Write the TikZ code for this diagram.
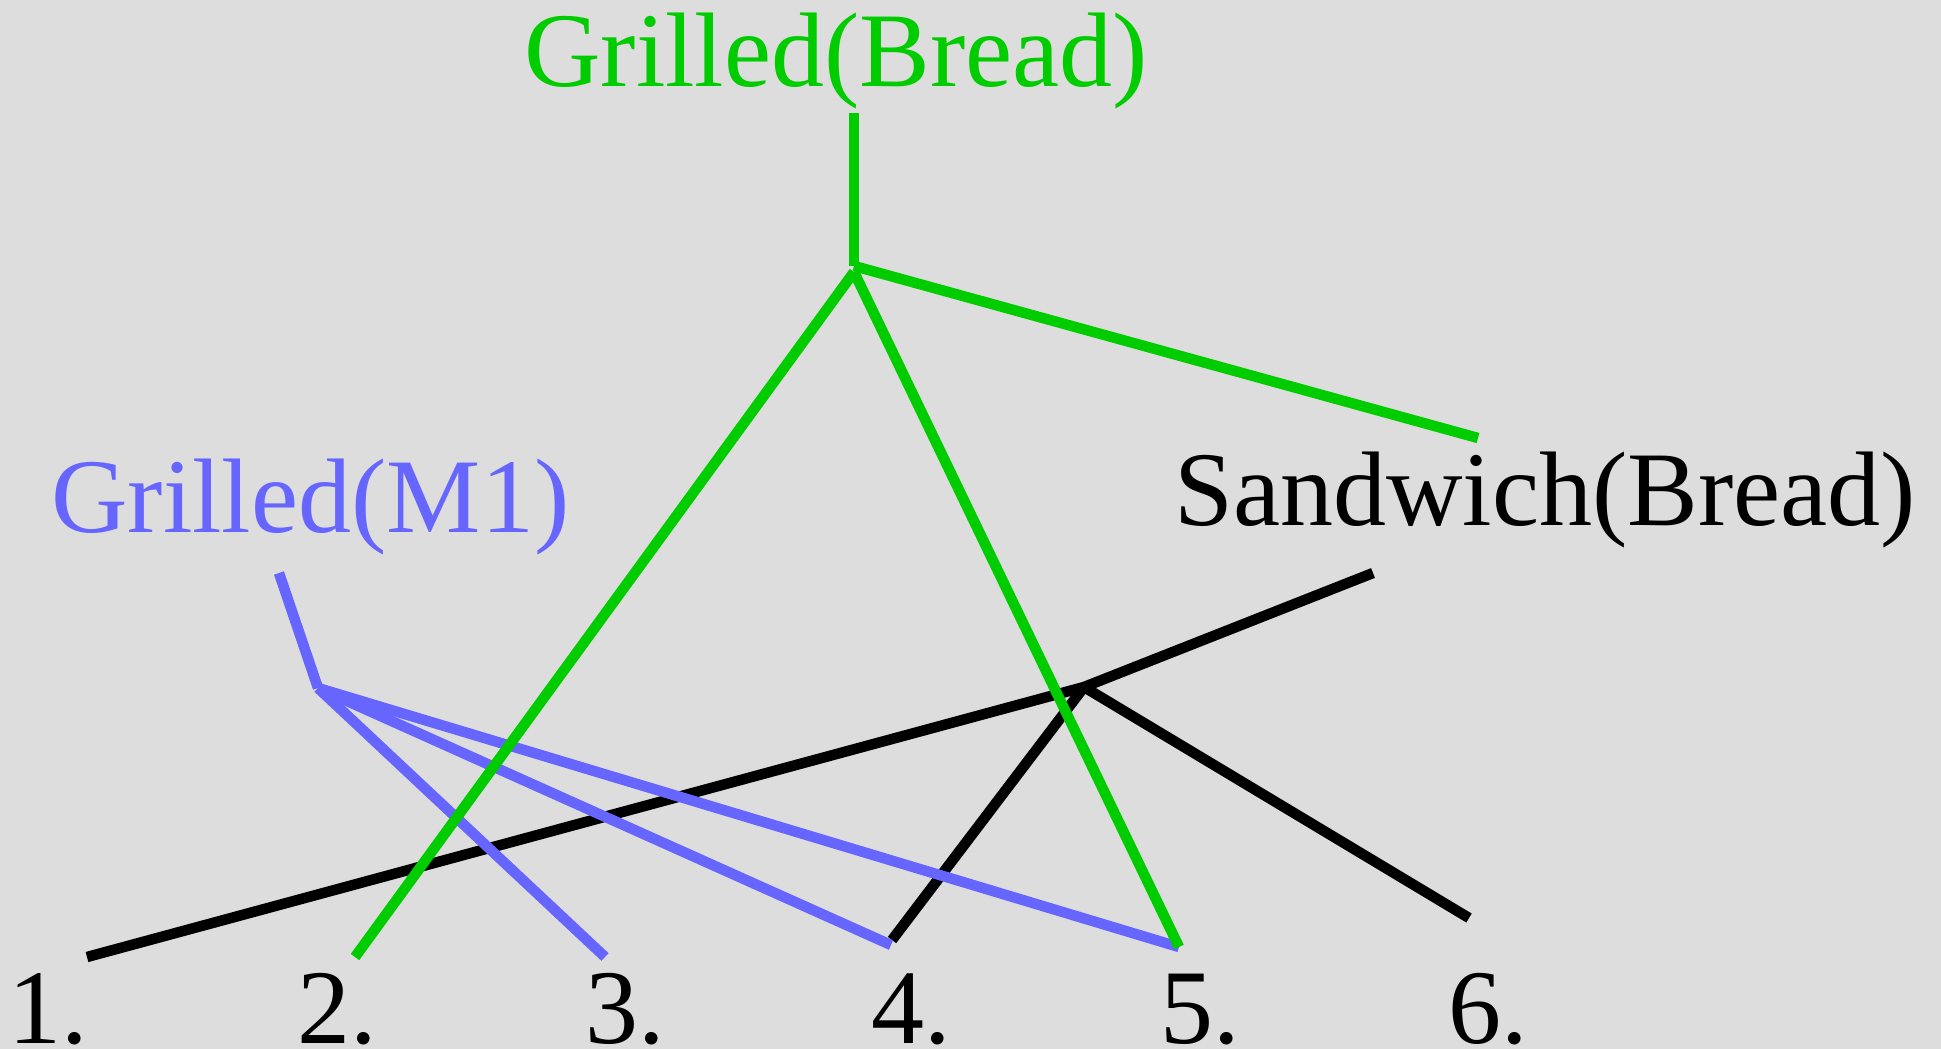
\documentclass[tikz,border=0pt]{standalone}
\usepackage{fontspec}
\setmainfont{Liberation Serif}
\usepackage{xcolor}

\definecolor{leafgreen}{HTML}{00CC00}
\definecolor{mblue}{HTML}{6666FF}
\definecolor{paper}{HTML}{DDDDDD}

\begin{document}
\begin{tikzpicture}[x=1pt,y=-1pt,
    lbl/.style={anchor=base west,inner sep=0pt,font=\fontsize{106}{120}\selectfont},
    edge/.style={line width=10.5pt}]

    % Background
    \fill[paper] (0,0) rectangle (1941,1049);
    \useasboundingbox (0,0) rectangle (1941,1049);

    % Labels
    \node[lbl,text=leafgreen] (gbread) at (524,87) {Grilled(Bread)};
    \node[lbl,text=mblue] (gmone) at (51,532) {Grilled(M1)};
    \node[lbl] (sbread) at (1174,525) {Sandwich(Bread)};

    \foreach \i/\x in {1/8,2/297,3/585,4/871,5/1160,6/1448} {
        \node[lbl] (n\i) at (\x,1043) {\i.};
    }

    % Junctions and free ends
    \coordinate (gtop) at (854,113);
    \coordinate (gjoin) at (854,266);
    \coordinate (gdown) at (854,272);
    \coordinate (gright) at (1478,438);
    \coordinate (mtop) at (279,573);
    \coordinate (mjoin) at (318,688);
    \coordinate (stop) at (1373,573);
    \coordinate (sjoin) at (1084,687);

    \coordinate (e1) at (87,957);
    \coordinate (e2) at (355,957);
    \coordinate (e3) at (605,957);
    \coordinate (e4b) at (891,945);
    \coordinate (e4k) at (892,940);
    \coordinate (e5) at (1179,947);
    \coordinate (e6) at (1469,918);

    % Sandwich(Bread)
    \draw[edge,black] (stop) -- (sjoin);
    \draw[edge,black] (sjoin) -- (e1);
    \draw[edge,black] (sjoin) -- (e4k);
    \draw[edge,black] (sjoin) -- (e6);

    % Grilled(M1)
    \draw[edge,mblue] (mtop) -- (mjoin);
    \draw[edge,mblue] (mjoin) -- (e3);
    \draw[edge,mblue] (mjoin) -- (e4b);
    \draw[edge,mblue] (mjoin) -- (e5);

    % Grilled(Bread)
    \draw[edge,leafgreen] (gtop) -- (gjoin);
    \draw[edge,leafgreen] (gdown) -- (e2);
    \draw[edge,leafgreen] (gdown) -- (e5);
    \draw[edge,leafgreen] (gjoin) -- (gright);

\end{tikzpicture}
\end{document}
